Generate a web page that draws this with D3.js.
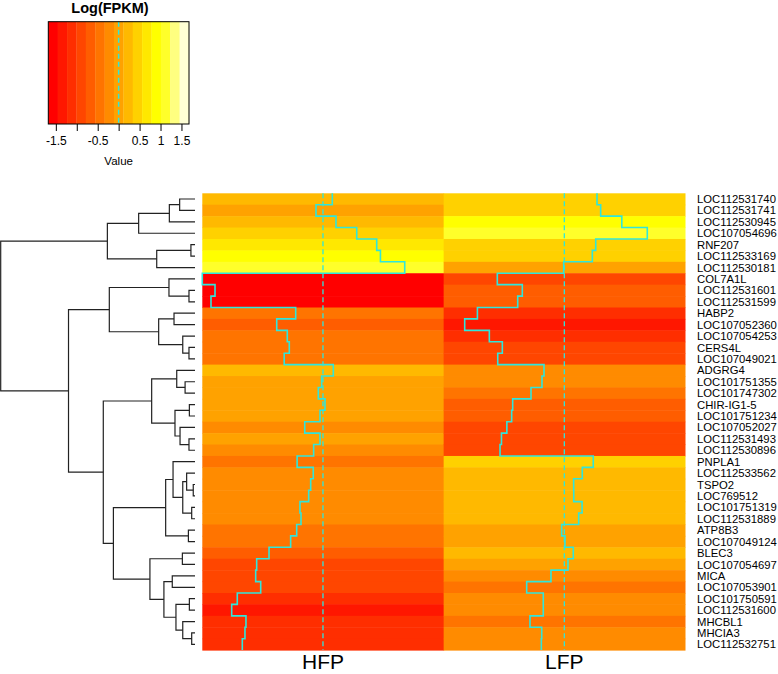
<!DOCTYPE html>
<html><head><meta charset="utf-8">
<script src="https://cdn.jsdelivr.net/npm/d3@7"></script>
<style>body{margin:0;background:#fff}svg{display:block;font-family:"Liberation Sans",Arial,Helvetica,sans-serif}</style>
</head><body><svg id="c" width="778" height="674"></svg>
<script>
const genes = ["LOC112531740","LOC112531741","LOC112530945","LOC107054696","RNF207","LOC112533169","LOC112530181","COL7A1L","LOC112531601","LOC112531599","HABP2","LOC107052360","LOC107054253","CERS4L","LOC107049021","ADGRG4","LOC101751355","LOC101747302","CHIR-IG1-5","LOC101751234","LOC107052027","LOC112531493","LOC112530896","PNPLA1","LOC112533562","TSPO2","LOC769512","LOC101751319","LOC112531889","ATP8B3","LOC107049124","BLEC3","LOC107054697","MICA","LOC107053901","LOC101750591","LOC112531600","MHCBL1","MHCIA3","LOC112532751"];
const columns = ["HFP","LFP"];
const hfp = [0.13,-0.097,0.181,0.47,0.748,0.80,1.138,-1.68,-1.503,-1.559,-0.38,-0.644,-0.497,-0.469,-0.54,0.144,-0.018,-0.065,0.028,-0.041,-0.254,-0.041,-0.13,-0.36,-0.135,-0.171,-0.199,-0.32,-0.306,-0.366,-0.45,-0.751,-0.923,-0.937,-0.867,-1.193,-1.271,-1.072,-1.086,-1.123];
const lfp = [0.455,0.506,0.80,1.155,0.437,0.39,-0.009,-0.933,-0.585,-0.649,-1.21,-1.387,-1.044,-0.863,-0.927,-0.283,-0.311,-0.464,-0.719,-0.733,-0.80,-0.875,-0.895,0.403,0.25,0.13,0.131,0.247,0.2,-0.037,0.009,0.125,0.051,-0.186,-0.524,-0.293,-0.293,-0.478,-0.315,-0.32];
const keyLimit = 1.68;
const keyTicks = [-1.5,-1,-0.5,0,0.5,1,1.5];
const keyTickLabels = ["-1.5","","-0.5","","0.5","1","1.5"];
// hclust-style merges: negative = leaf (row number), positive = earlier merge
const merges = [[-1,-2],[1,-3],[2,-4],[-5,-6],[4,-7],[3,5],[-9,-10],[-8,7],[-11,-12],[-14,-15],[-13,10],[9,11],[8,12],[-17,-18],[-16,14],[-19,-20],[-22,-23],[-21,17],[16,18],[15,19],[-26,-27],[-25,21],[-28,-29],[22,23],[-24,24],[-30,-31],[25,26],[-32,-33],[-34,-35],[-36,-37],[-39,-40],[-38,31],[30,32],[29,33],[28,34],[27,35],[20,36],[13,37],[6,38]];
const mergeHeights = [0.79,1.32,2.90,0.21,1.97,4.51,0.31,1.34,1.08,0.31,0.63,1.87,4.41,0.51,0.94,0.29,0.31,0.77,1.03,2.23,0.09,0.43,0.17,0.63,1.13,0.34,1.51,0.65,1.17,0.29,0.17,0.63,0.98,1.60,2.32,4.20,4.72,6.51,10.0];

function heatColors(n){
  const j = Math.floor(n/4), i = n - j, out = [];
  for (let k=0;k<i;k++){ const h = i>1 ? k/(i-1)/6 : 0; out.push(d3.rgb(255, Math.round(h*6*255), 0).formatHex()); }
  for (let m=0;m<j;m++){ const a=1-1/(2*j), b=1/(2*j); const s = j>1 ? a - m*(a-b)/(j-1) : a; out.push(d3.rgb(255,255,Math.round((1-s)*255)).formatHex()); }
  return out;
}
const breaks = d3.range(16).map(i => -keyLimit + i*2*keyLimit/15);
const palette = heatColors(15);
const color = d3.scaleThreshold().domain(breaks.slice(1,15)).range(palette);

const svg = d3.select("#c");
const traceCol = "#2fe6dc";

// ---- color key
const kx = d3.scaleLinear().domain([-keyLimit,keyLimit]).range([48.3,189]);
const kTop = 21.7, kBot = 124;
const key = svg.append("g");
key.selectAll("rect").data(d3.range(15)).join("rect")
  .attr("x", k=>kx(breaks[k])).attr("width", k=>kx(breaks[k+1])-kx(breaks[k])+0.3)
  .attr("y", kTop).attr("height", kBot-kTop).attr("fill", k=>palette[k]);
key.append("line").attr("x1",kx(0)).attr("x2",kx(0)).attr("y1",kTop).attr("y2",kBot)
  .attr("stroke",traceCol).attr("stroke-width",1.5).attr("stroke-dasharray","5,3");
key.append("rect").attr("x",kx(-keyLimit)).attr("y",kTop).attr("width",kx(keyLimit)-kx(-keyLimit)).attr("height",kBot-kTop)
  .attr("fill","none").attr("stroke","#000").attr("stroke-width",1);
const kaxis = key.append("g").attr("transform",`translate(0,${kBot})`)
  .call(d3.axisBottom(kx).tickValues(keyTicks).tickSize(7).tickPadding(5).tickFormat((d,i)=>keyTickLabels[i]));
kaxis.select(".domain").remove();
kaxis.selectAll("text").attr("font-size",12).attr("font-family",null).attr("fill","#000");
kaxis.selectAll("line").attr("stroke","#000");
key.append("text").attr("x",110).attr("y",12.5).attr("text-anchor","middle").attr("font-weight","bold").attr("font-size",14.5).text("Log(FPKM)");
key.append("text").attr("x",kx(0)).attr("y",165).attr("text-anchor","middle").attr("font-size",11.5).text("Value");

// ---- heatmap
const y = d3.scaleBand().domain(genes).range([193.3,650.1]);
const x = d3.scaleBand().domain(columns).range([202.3,685]);
const series = {HFP: hfp, LFP: lfp};
const hm = svg.append("g");
columns.forEach(c=>{
  hm.append("g").selectAll("rect").data(genes).join("rect")
    .attr("x", x(c)).attr("width", x.bandwidth()+0.5)
    .attr("y", g=>y(g)).attr("height", y.bandwidth()+0.5)
    .attr("fill", (g,i)=>color(series[c][i]));
});
columns.forEach(c=>{
  const tx = d3.scaleLinear().domain([-keyLimit,keyLimit]).range([x(c), x(c)+x.bandwidth()]);
  hm.append("line").attr("x1",tx(0)).attr("x2",tx(0)).attr("y1",y.range()[0]).attr("y2",y.range()[1])
    .attr("stroke",traceCol).attr("stroke-width",1.3).attr("stroke-dasharray","5,3");
  const pts = [];
  genes.forEach((g,i)=>{ const v = series[c][i]; pts.push([tx(v), y(g)]); pts.push([tx(v), y(g)+y.bandwidth()]); });
  hm.append("path").attr("d", d3.line()(pts)).attr("fill","none").attr("stroke",traceCol).attr("stroke-width",1.6);
  svg.append("text").attr("x", x(c)+x.bandwidth()/2).attr("y",669).attr("text-anchor","middle").attr("font-size",21).text(c);
});

// ---- row labels
svg.append("g").selectAll("text").data(genes).join("text")
  .attr("x",697).attr("y",g=>y(g)+y.bandwidth()/2).attr("dy","0.36em").attr("font-size",11.3).text(g=>g);

// ---- dendrogram
const dx = d3.scaleLinear().domain([0,10]).range([195,0.7]);
const pos = [];
function nodePos(id){ return id<0 ? {x: dx(0), y: y(genes[-id-1])+y.bandwidth()/2} : pos[id-1]; }
const dg = svg.append("g").attr("fill","none").attr("stroke","#222").attr("stroke-width",1.2);
merges.forEach((m,i)=>{
  const a = nodePos(m[0]), b = nodePos(m[1]), h = dx(mergeHeights[i]);
  dg.append("path").attr("d", `M${a.x},${a.y}H${h}V${b.y}H${b.x}`);
  pos.push({x:h, y:(a.y+b.y)/2});
});
</script></body></html>
